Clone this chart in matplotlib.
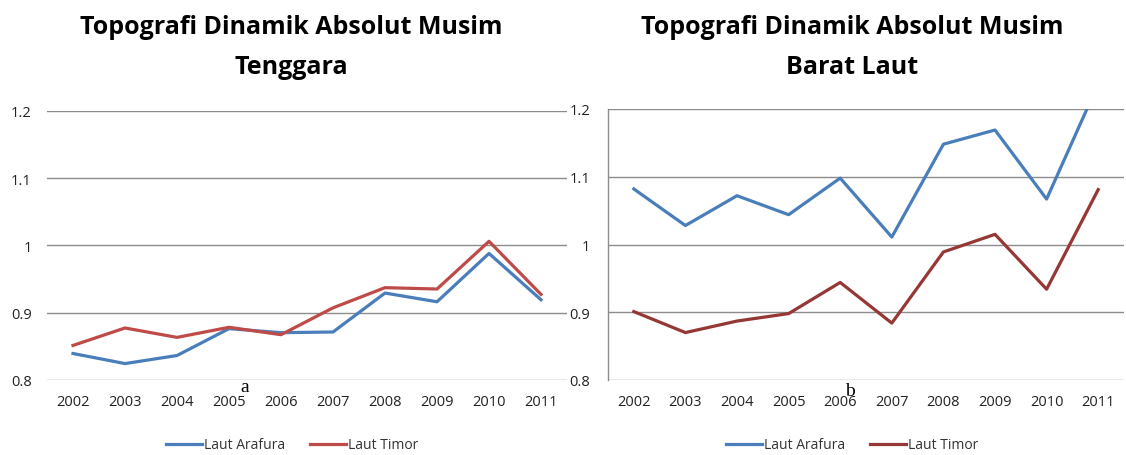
import matplotlib
matplotlib.use("Agg")
import matplotlib.pyplot as plt

years = ["2002", "2003", "2004", "2005", "2006", "2007", "2008", "2009", "2010", "2011"]
yticks = [0.8, 0.9, 1.0, 1.1, 1.2]
ytick_labels = ["0.8", "0.9", "1", "1.1", "1.2"]

tenggara_arafura = [0.839, 0.824, 0.836, 0.876, 0.870, 0.871, 0.929, 0.916, 0.988, 0.919]
tenggara_timor = [0.851, 0.877, 0.863, 0.878, 0.867, 0.907, 0.937, 0.935, 1.006, 0.927]
baratlaut_arafura = [1.082, 1.028, 1.072, 1.044, 1.098, 1.011, 1.148, 1.169, 1.067, 1.237]
baratlaut_timor = [0.901, 0.870, 0.887, 0.898, 0.944, 0.884, 0.989, 1.015, 0.934, 1.081]

tick_font = ["Open Sans", "DejaVu Sans"]
BLUE = "#4A7EBB"
RED = "#BE4B48"
DARKRED = "#953735"
GRID = "#8C8C8C"

fig = plt.figure(figsize=(11.26, 4.56), dpi=100)

def setup(ax, spine_left, ypad):
    ax.set_xlim(-0.5, 9.5)
    ax.set_ylim(0.8, 1.2)
    ax.set_yticks(yticks)
    ax.set_yticklabels(ytick_labels)
    ax.set_xticks(range(len(years)))
    ax.set_xticklabels(years)
    for s in ["top", "right", "bottom"]:
        ax.spines[s].set_visible(False)
    ax.spines["left"].set_visible(spine_left)
    ax.spines["left"].set_color(GRID)
    ax.spines["left"].set_linewidth(1.0)
    ax.yaxis.grid(True, color=GRID, linewidth=1.0)
    ax.set_axisbelow(True)
    ax.tick_params(axis="both", length=0, labelsize=10.5, colors="#222222")
    ax.tick_params(axis="y", pad=ypad)
    ax.tick_params(axis="x", pad=10)
    for lab in ax.get_xticklabels() + ax.get_yticklabels():
        lab.set_family(tick_font)

x = range(len(years))

# Left chart
ax1 = fig.add_axes([47/1126, 1-380.7/456, 520/1126, 268.7/456])
setup(ax1, False, 11)
ax1.plot(x, tenggara_arafura, color=BLUE, lw=2.3, label="Laut Arafura", solid_joinstyle="round")
ax1.plot(x, tenggara_timor, color=RED, lw=2.3, label="Laut Timor", solid_joinstyle="round")

# Right chart
ax2 = fig.add_axes([608/1126, 1-381/456, 516/1126, 271/456])
setup(ax2, True, 13)
ax2.plot(x, baratlaut_arafura, color=BLUE, lw=2.3, label="Laut Arafura", solid_joinstyle="round")
ax2.plot(x, baratlaut_timor, color=DARKRED, lw=2.3, label="Laut Timor", solid_joinstyle="round")

title_kw = dict(ha="center", va="center", fontsize=18, fontweight="bold",
                family=["Open Sans", "DejaVu Sans"], color="black")
fig.text(291/1126, 1-28/456, "Topografi Dinamik Absolut Musim", **title_kw)
fig.text(291/1126, 1-68/456, "Tenggara", **title_kw)
fig.text(852/1126, 1-28/456, "Topografi Dinamik Absolut Musim", **title_kw)
fig.text(852/1126, 1-68/456, "Barat Laut", **title_kw)

fig.text(245/1126, 1-388/456, "a", ha="center", va="center", fontsize=14, family=["Liberation Serif"])
fig.text(850/1126, 1-392/456, "b", ha="center", va="center", fontsize=14, family=["Liberation Serif"])

leg_kw = dict(loc="center", ncol=2, frameon=False, handlelength=2.6, handletextpad=0.15,
              columnspacing=1.8, prop={"family": ["Open Sans", "DejaVu Sans"], "size": 10})
l1 = ax1.legend(bbox_to_anchor=((292-47)/520, (380.7-446)/268.7), **leg_kw)
l2 = ax2.legend(bbox_to_anchor=((852-608)/516, (381-446)/271), **leg_kw)
for lg in (l1, l2):
    for t in lg.get_texts():
        t.set_color("#333333")

fig.savefig("out.png", dpi=100)
